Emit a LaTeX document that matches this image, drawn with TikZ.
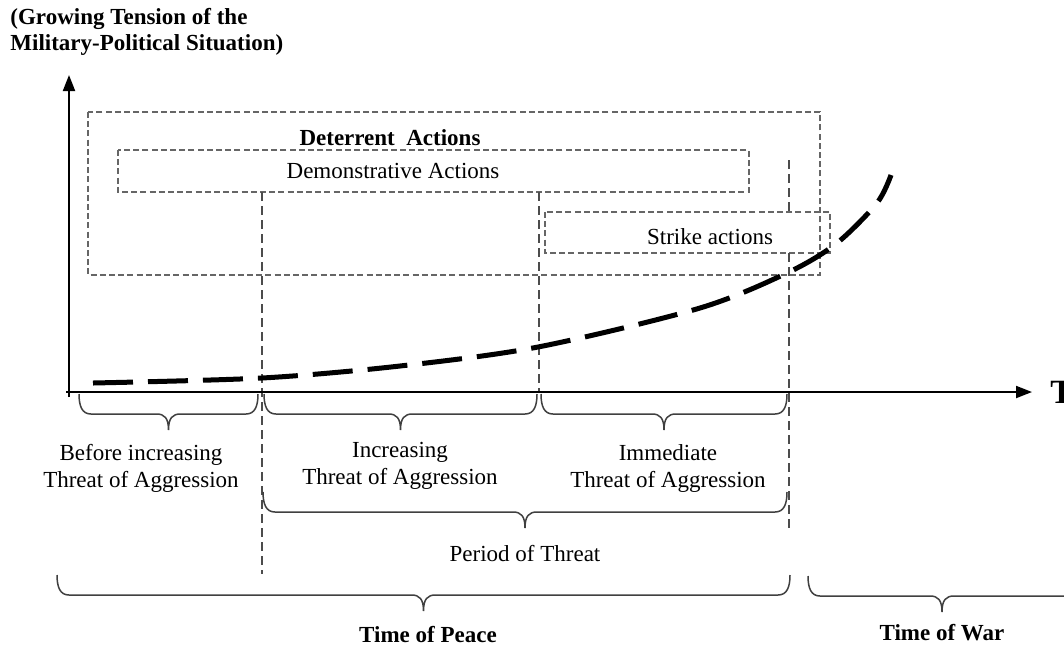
\documentclass[tikz,border=0pt]{standalone}
\usepackage{fontspec}
\setmainfont{Liberation Serif}
\usetikzlibrary{arrows.meta}

\newcommand{\tbrace}[3]{%
\draw[brc] (#1,#3) .. controls (#1,#3+12) and (#1+3,#3+20) .. (#1+12,#3+20)
  -- ({(#1+#2)/2-12},#3+20) .. controls ({(#1+#2)/2-4},#3+20) and ({(#1+#2)/2},#3+24) .. ({(#1+#2)/2},#3+36)
  .. controls ({(#1+#2)/2},#3+24) and ({(#1+#2)/2+4},#3+20) .. ({(#1+#2)/2+12},#3+20)
  -- (#2-12,#3+20) .. controls (#2-3,#3+20) and (#2,#3+12) .. (#2,#3);}

\begin{document}
\begin{tikzpicture}[x=0.5pt,y=-0.5pt,font=\fontsize{11.5}{13.5}\selectfont]
\tikzstyle{axis}=[line width=1pt,-{Triangle[length=8pt,width=6pt]}]
\tikzstyle{zone}=[draw=gray!80!black,line width=0.6pt,dash pattern=on 3pt off 1.6pt]
\tikzstyle{sep}=[draw=gray!60!black,line width=0.6pt,dash pattern=on 4.5pt off 2.5pt]
\tikzstyle{trend}=[line width=2.5pt,dash pattern=on 20pt off 7.5pt]
\tikzstyle{brc}=[draw=black!75,line width=0.75pt]
\tikzstyle{lbl}=[align=center,inner sep=0pt]
\tikzstyle{head}=[font=\fontsize{11.5}{13}\selectfont\bfseries,inner sep=0pt]
\useasboundingbox[fill=white] (0,0) rectangle (1064,644);

\coordinate (ybot) at (69,397);
\coordinate (ytip) at (69,75);
\coordinate (xbeg) at (66,392);
\coordinate (xtip) at (1032,392);

\draw[zone] (88,112) rectangle (820,275);
\draw[zone] (118,150) rectangle (749,192);
\draw[zone] (545,212) rectangle (830,253);

\draw[sep] (262,192) -- (262,574);
\draw[sep] (539,192) -- (539,392);
\draw[sep] (789,160) -- (789,212);
\draw[sep] (789,253) -- (789,530);

\draw[trend] plot[smooth] coordinates {(93,383) (262,378) (400,366) (538,347) (700,308) (789,272) (837,243) (877,203) (891,175)};

\draw[axis] (ybot) -- (ytip);
\draw[axis] (xbeg) -- (xtip);

\node[head,anchor=north west,align=left] (title) at (10,8) {(Growing Tension of the\\Military-Political Situation)};
\node[head] (deter) at (390,138) {Deterrent\ \ Actions};
\node (demo) at (393,171) {Demonstrative Actions};
\node (strike) at (710,237) {Strike actions};
\node[head,font=\fontsize{17}{17}\selectfont\bfseries,anchor=west] (T) at (1050,392) {T};

\tbrace{79}{258}{394}
\tbrace{264}{537}{394}
\tbrace{541}{787}{394}
\tbrace{263}{787}{492}
\tbrace{57}{790}{575}
\tbrace{808}{1076}{576}

\node[lbl] (before) at (141,468) {Before increasing\\Threat of Aggression};
\node[lbl] (incr) at (400,466) {Increasing\\Threat of Aggression};
\node[lbl] (immed) at (668,468) {Immediate\\Threat of Aggression};
\node (period) at (525,553) {Period of Threat};
\node[head] (peace) at (428,634) {Time of Peace};
\node[head] (war) at (942,633) {Time of War};
\end{tikzpicture}
\end{document}
